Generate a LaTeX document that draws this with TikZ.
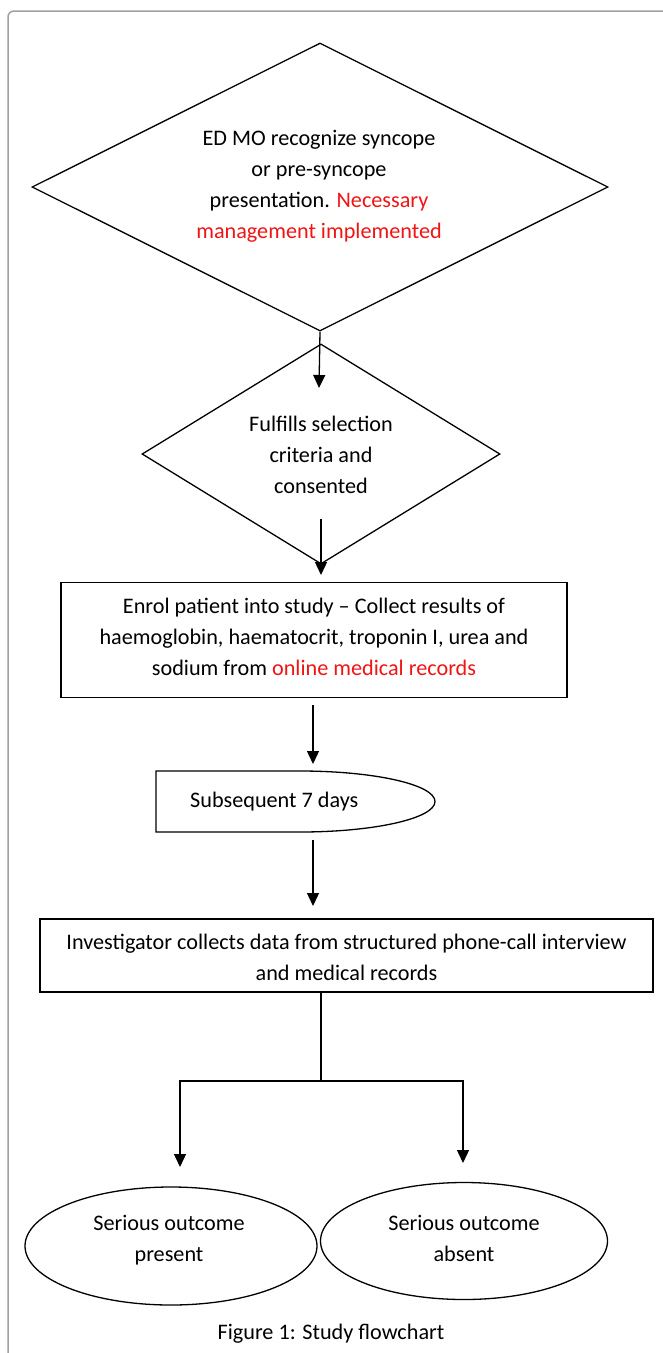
\documentclass[tikz,border=0pt]{standalone}
\usepackage{fontspec}
\setmainfont{Carlito}
\usetikzlibrary{shapes.geometric,arrows.meta}
\definecolor{redtxt}{RGB}{240,20,20}
\definecolor{framegray}{RGB}{160,160,160}
\begin{document}
\begin{tikzpicture}[x=1pt,y=-1pt,
  txt/.style={align=center,inner sep=0pt,font=\fontsize{22.2}{31}\selectfont},
  shp/.style={draw=black,line width=1.3pt,inner sep=0pt},
  arr/.style={line width=1.3pt,-{Triangle[width=12pt,length=13pt]}},
  ln/.style={line width=1.3pt}]
\useasboundingbox (0,0) rectangle (662,1353);
\draw[framegray,line width=1.5pt,rounded corners=6pt] (8,1380) |- (690,11);
% diamond 1
\node[shp,diamond,minimum width=576pt,minimum height=288pt] (d1) at (320,187) {};
\node[txt] (t1) at (319,186) {ED MO recognize syncope\\or pre-syncope\\presentation. \textcolor{redtxt}{Necessary}\\\textcolor{redtxt}{management implemented}};
% diamond 2
\node[shp,diamond,minimum width=358pt,minimum height=220pt] (d2) at (321,454) {};
\node[txt] (t2) at (321,455) {Fulfills selection\\criteria and\\consented};
% rect 1
\node[shp,rectangle,minimum width=506pt,minimum height=115pt] (r1) at (314,640) {};
\node[txt] (t3) at (314,637) {Enrol patient into study -- Collect results of\\haemoglobin, haematocrit, troponin I, urea and\\sodium from \textcolor{redtxt}{online medical records}};
% subsequent 7 days
\draw[ln] (156,771) -- (300,771) arc[start angle=-90,end angle=90,x radius=135,y radius=30.5] -- (156,832) -- cycle;
\node[txt,anchor=west] (t4) at (190,802) {Subsequent 7 days};
% rect 2
\node[shp,rectangle,minimum width=613pt,minimum height=73pt] (r2) at (346.5,955.5) {};
\node[txt] (t5) at (346.5,957) {Investigator collects data from structured phone-call interview\\and medical records};
% ellipses
\node[shp,ellipse,minimum width=292pt,minimum height=118pt] (e1) at (171,1246) {};
\node[txt] (t6) at (169,1240) {Serious outcome\\present};
\node[shp,ellipse,minimum width=287pt,minimum height=117pt] (e2) at (464,1241) {};
\node[txt] (t7) at (464,1238) {Serious outcome\\absent};
% caption
\node[txt] (cap) at (331,1334) {Figure 1: Study flowchart};
% connectors
\coordinate (a1e) at (319,388);
\coordinate (a2s) at (321,519);
\coordinate (a2e) at (321,575);
\coordinate (a3s) at (313,705);
\coordinate (a3e) at (313,764);
\coordinate (a4s) at (313,840);
\coordinate (a4e) at (313,906);
\coordinate (br) at (321,1081);
\coordinate (bl) at (180,1081);
\coordinate (brr) at (463,1081);
\coordinate (ble) at (180,1167);
\coordinate (bre) at (463,1163);
\draw[arr] (d1.south) -- (a1e);
\draw[arr] (a2s) -- (a2e);
\draw[arr] (a3s) -- (a3e);
\draw[arr] (a4s) -- (a4e);
\draw[ln] (r2.south -| br) -- (br);
\draw[arr] (br) -- (bl) -- (ble);
\draw[arr] (br) -- (brr) -- (bre);
\end{tikzpicture}
\end{document}
